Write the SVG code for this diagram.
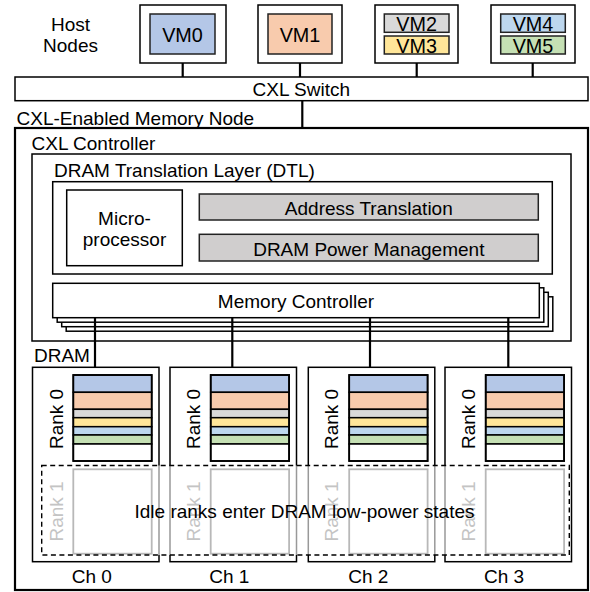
<svg xmlns="http://www.w3.org/2000/svg" width="590" height="592" viewBox="0 0 590 592">
<style>
text{font-family:"Liberation Sans",Arial,sans-serif;font-size:19px;fill:#000}
.c{text-anchor:middle}
.vt{font-size:19.8px}
.box{fill:#fff;stroke:#000;stroke-width:1.5}
.vm{stroke:#222;stroke-width:1.5}
.gray{fill:#d0cece;stroke:#222;stroke-width:1.5}
.ln{stroke:#000;stroke-width:2.2;fill:none}
.band{stroke:#000;stroke-width:1.5}
.r1{fill:#fff;stroke:#b8b8b8;stroke-width:1.8}
.r1t{fill:#c4c4c4}
</style>
<rect width="590" height="592" fill="#fff"/>
<g id="labels">
<text class="c" x="70.5" y="30.5">Host</text>
<text class="c" x="70.5" y="51.5">Nodes</text>
<text x="16.5" y="124.5">CXL-Enabled Memory Node</text>
</g>
<g id="connectors">
<line class="ln" x1="182.7" y1="63" x2="182.7" y2="77"/>
<line class="ln" x1="300" y1="63" x2="300" y2="77"/>
<line class="ln" x1="416.7" y1="63" x2="416.7" y2="77"/>
<line class="ln" x1="532.7" y1="63" x2="532.7" y2="77"/>
<line class="ln" x1="302.3" y1="100.7" x2="302.3" y2="128"/>
</g>
<g id="host0">
<rect class="box" x="140" y="5" width="86" height="58"/>
<rect class="vm" x="150" y="14" width="65" height="40" fill="#b4c7e7"/>
<text class="c vt" x="182.5" y="41.7">VM0</text>
</g>
<g id="host1">
<rect class="box" x="258" y="5" width="84" height="58"/>
<rect class="vm" x="268" y="14" width="64" height="40" fill="#f8cbad"/>
<text class="c vt" x="300" y="41.7">VM1</text>
</g>
<g id="host2">
<rect class="box" x="375" y="5" width="83" height="58"/>
<rect class="vm" x="384.3" y="14" width="64.7" height="18.3" fill="#d9d9d9"/>
<rect class="vm" x="384.3" y="36" width="64.7" height="18" fill="#ffe699"/>
<text class="c vt" x="416.7" y="30.9">VM2</text>
<text class="c vt" x="416.7" y="52.5">VM3</text>
</g>
<g id="host3">
<rect class="box" x="491" y="5" width="84" height="58"/>
<rect class="vm" x="500.7" y="14" width="64.6" height="18.3" fill="#bdd7ee"/>
<rect class="vm" x="500.7" y="36" width="64.6" height="18" fill="#c5e0b4"/>
<text class="c vt" x="533" y="30.9">VM4</text>
<text class="c vt" x="533" y="52.5">VM5</text>
</g>
<g id="switch">
<rect class="box" x="15" y="77" width="573" height="23.7"/>
<text class="c" x="301.3" y="95.7">CXL Switch</text>
</g>
<g id="memnode">
<rect x="15" y="128" width="573" height="462" fill="#fff" stroke="#000" stroke-width="2.2"/>
<text x="31.5" y="150">CXL Controller</text>
</g>
<g id="dtl">
<rect class="box" x="32" y="154" width="539" height="187"/>
<text x="54" y="176.5">DRAM Translation Layer (DTL)</text>
<rect class="box" x="52.7" y="181.7" width="499.6" height="92.3"/>
</g>
<g id="microprocessor">
<rect class="box" x="66.7" y="190" width="115.6" height="75.7"/>
<text class="c" x="124.5" y="225">Micro-</text>
<text class="c" x="124.5" y="245.5">processor</text>
</g>
<g id="addr">
<rect class="gray" x="199.3" y="194" width="339" height="26"/>
<text class="c" x="368.8" y="215">Address Translation</text>
</g>
<g id="power">
<rect class="gray" x="199.3" y="234.3" width="339" height="26.7"/>
<text class="c" x="368.8" y="256">DRAM Power Management</text>
</g>
<g id="memctrl">
<rect class="box" x="66.2" y="296.8" width="486.6" height="34.4"/>
<rect class="box" x="61.7" y="292.3" width="486.6" height="34.4"/>
<rect class="box" x="57.2" y="287.8" width="486.6" height="34.4"/>
<rect class="box" x="52.7" y="283.3" width="486.6" height="34.4"/>
<text class="c" x="296" y="307.5">Memory Controller</text>
</g>
<g id="channel-links">
<line class="ln" x1="95" y1="317.7" x2="95" y2="367.3"/>
<line class="ln" x1="232.3" y1="317.7" x2="232.3" y2="367.3"/>
<line class="ln" x1="370" y1="317.7" x2="370" y2="367.3"/>
<line class="ln" x1="508.3" y1="317.7" x2="508.3" y2="367.3"/>
</g>
<text x="34" y="362">DRAM</text>
<defs>
<g id="rank0">
<rect class="band" x="0" y="0" width="78.4" height="17.3" fill="#b4c7e7"/>
<rect class="band" x="0" y="17.3" width="78.4" height="17" fill="#f8cbad"/>
<rect class="band" x="0" y="34.3" width="78.4" height="8.4" fill="#d9d9d9"/>
<rect class="band" x="0" y="42.7" width="78.4" height="9" fill="#ffe699"/>
<rect class="band" x="0" y="51.7" width="78.4" height="8.3" fill="#bdd7ee"/>
<rect class="band" x="0" y="60" width="78.4" height="9" fill="#c5e0b4"/>
<rect class="band" x="0" y="69" width="78.4" height="17" fill="#fff"/>
<rect x="0" y="0" width="78.4" height="86" fill="none" stroke="#000" stroke-width="1.8"/>
</g>
</defs>
<g id="ch0">
<rect class="box" x="32.5" y="367.3" width="126.5" height="194.4"/>
<use href="#rank0" x="73.3" y="375"/>
<text class="c" transform="translate(62.5,419) rotate(-90)">Rank 0</text>
<text class="c" x="91.8" y="583.3">Ch 0</text>
</g>
<g id="ch1">
<rect class="box" x="170" y="367.3" width="126.5" height="194.4"/>
<use href="#rank0" x="210.7" y="375"/>
<text class="c" transform="translate(200,419) rotate(-90)">Rank 0</text>
<text class="c" x="229.3" y="583.3">Ch 1</text>
</g>
<g id="ch2">
<rect class="box" x="308.3" y="367.3" width="126.5" height="194.4"/>
<use href="#rank0" x="349.2" y="375"/>
<text class="c" transform="translate(338.3,419) rotate(-90)">Rank 0</text>
<text class="c" x="368.3" y="583.3">Ch 2</text>
</g>
<g id="ch3">
<rect class="box" x="445" y="367.3" width="126.5" height="194.4"/>
<use href="#rank0" x="485.7" y="375"/>
<text class="c" transform="translate(475,419) rotate(-90)">Rank 0</text>
<text class="c" x="504" y="583.3">Ch 3</text>
</g>
<g id="idle">
<rect x="41.7" y="465.5" width="527.6" height="89.5" fill="#fff" fill-opacity="0.6"/>
<rect class="r1" x="73.3" y="469.3" width="78.4" height="84.4"/>
<rect class="r1" x="210.7" y="469.3" width="78.4" height="84.4"/>
<rect class="r1" x="349.2" y="469.3" width="78.4" height="84.4"/>
<rect class="r1" x="485.7" y="469.3" width="78.4" height="84.4"/>
<text class="c r1t" transform="translate(62.5,511.5) rotate(-90)">Rank 1</text>
<text class="c r1t" transform="translate(200,511.5) rotate(-90)">Rank 1</text>
<text class="c r1t" transform="translate(338.3,511.5) rotate(-90)">Rank 1</text>
<text class="c r1t" transform="translate(475,511.5) rotate(-90)">Rank 1</text>
<rect x="41.7" y="465.5" width="527.6" height="89.5" fill="none" stroke="#000" stroke-width="1.4" stroke-dasharray="5,3.5"/>
<text class="c" x="304.5" y="517.7">Idle ranks enter DRAM low-power states</text>
</g>
</svg>
